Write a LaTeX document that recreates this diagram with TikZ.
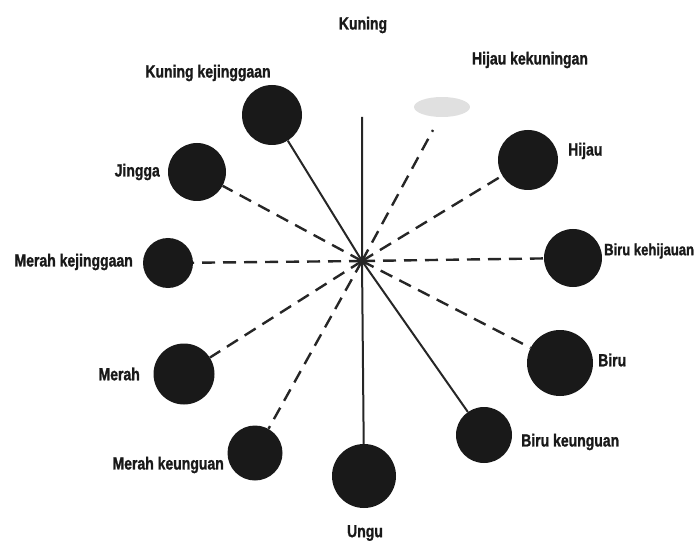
\documentclass[tikz,border=0pt]{standalone}
\usepackage{fontspec}
\newfontfamily\judul[FakeStretch=0.8, BoldFeatures={FakeBold=1.2}]{Liberation Sans}
\usetikzlibrary{shapes.geometric}
\begin{document}
\begin{tikzpicture}[x=1bp,y=-1bp,
  cakram/.style={circle, fill=black!90, inner sep=0pt},
  nama/.style={font=\judul\bfseries\fontsize{17.5bp}{20bp}\selectfont, inner sep=0pt, text=black!90},
  garis/.style={line width=2bp, draw=black!85},
  putus/.style={garis, line width=2.4bp, dash pattern=on 13bp off 8bp}]
\useasboundingbox (0,0) rectangle (696,559);
% pusat roda warna
\coordinate (pusat) at (362,261);
\coordinate (kuning) at (362,117);
\node[ellipse, fill=black!12, minimum width=56bp, minimum height=20bp, inner sep=0pt] (hijkun) at (442,107) {};
\coordinate (ujunghk) at (433,130);
\node[cakram, minimum size=60bp] (kunjing) at (272,115) {};
\node[cakram, minimum size=58bp] (jingga) at (197,172) {};
\node[cakram, minimum size=50bp] (merjing) at (168,263) {};
\node[cakram, minimum size=61bp] (merah) at (184,374) {};
\node[cakram, minimum size=55bp] (merung) at (255,453) {};
\node[cakram, minimum size=64bp] (ungu) at (364,476) {};
\node[cakram, minimum size=56bp] (birung) at (484,435) {};
\node[cakram, minimum size=66bp] (biru) at (560,363) {};
\node[cakram, minimum size=58bp] (birhij) at (573,258) {};
\node[cakram, minimum size=60bp] (hijau) at (528,160) {};
% label
\node[nama] (tkuning) at (363,25) {Kuning};
\node[nama] (thijkun) at (530,60) {Hijau kekuningan};
\node[nama] (tkunjing) at (208,73) {Kuning kejinggaan};
\node[nama, anchor=east] (tjingga) at (160,172) {Jingga};
\node[nama, anchor=east] (tmerjing) at (133,262) {Merah kejinggaan};
\node[nama, anchor=east] (tmerah) at (140,374) {Merah};
\node[nama, anchor=east] (tmerung) at (224,465) {Merah keunguan};
\node[nama] (tungu) at (365,533) {Ungu};
\node[nama, anchor=west] (tbirung) at (521,442) {Biru keunguan};
\node[nama, anchor=west] (tbiru) at (598,360) {Biru};
\node[nama, anchor=west, font=\judul\bfseries\fontsize{16.3bp}{20bp}\selectfont] (tbirhij) at (604,251) {Biru kehijauan};
\node[nama, anchor=west] (thijau) at (568,151) {Hijau};
% jari-jari
\draw[garis] (kuning) -- (pusat) -- (ungu);
\draw[garis] (pusat) -- (kunjing);
\draw[garis] (pusat) -- (birung);
\draw[putus] (pusat) -- (ujunghk);
\draw[putus] (pusat) -- (hijau);
\draw[putus] (pusat) -- (birhij);
\draw[putus] (pusat) -- (biru);
\draw[putus] (pusat) -- (merung);
\draw[putus] (pusat) -- (merah);
\draw[putus] (pusat) -- (merjing);
\draw[putus] (pusat) -- (jingga);
\end{tikzpicture}
\end{document}
